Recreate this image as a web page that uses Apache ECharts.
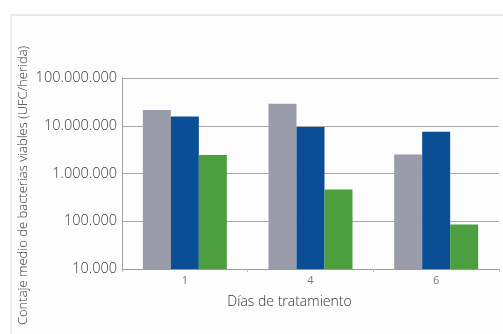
<!DOCTYPE html>
<html>
<head>
<meta charset="utf-8">
<script src="https://cdn.jsdelivr.net/npm/echarts@6/dist/echarts.min.js"></script>
<style>
  html, body { margin: 0; padding: 0; background: #ffffff; }
  #chart { width: 503px; height: 334px; }
</style>
</head>
<body>
<div id="chart"></div>
<script>
// Treatment days on the x axis
const days = ['1', '4', '6'];

// Mean viable bacteria counts (CFU / wound), one array per group
const serieGris = [21500000, 29000000, 2500000];
const serieAzul = [15600000, 9400000, 7500000];
const serieVerde = [2450000, 460000, 85000];

// Labels for the log-scale ticks
const yTickLabels = {
  10000: '10.000',
  100000: '100.000',
  1000000: '1.000.000',
  10000000: '10.000.000',
  100000000: '100.000.000'
};

const chart = echarts.init(document.getElementById('chart'), null, { renderer: 'canvas' });

const fontFam = '"Open Sans", "Noto Sans", sans-serif';

chart.setOption({
  animation: false,
  backgroundColor: '#ffffff',
  graphic: [
    {
      type: 'rect',
      z: -10,
      silent: true,
      shape: { x: 11, y: 15, width: 520, height: 340 },
      style: { fill: '#fdfdfd', stroke: '#ebebeb', lineWidth: 2 }
    }
  ],
  grid: { left: 122, right: 4, top: 78, bottom: 65 },
  xAxis: {
    type: 'category',
    data: days,
    name: 'Días de tratamiento',
    nameLocation: 'middle',
    nameGap: 26,
    nameTextStyle: { fontFamily: fontFam, fontSize: 14, fontWeight: 300, color: '#333', padding: [0, 42, 0, 0] },
    axisLine: { lineStyle: { color: '#9a9a9a', width: 1 } },
    axisTick: { show: true, alignWithLabel: false, length: 3, lineStyle: { color: '#bbbbbb' } },
    axisLabel: { fontFamily: fontFam, fontSize: 11, color: '#777', margin: 6 }
  },
  yAxis: {
    type: 'log',
    logBase: 10,
    min: 10000,
    max: 100000000,
    name: 'Contaje medio de bacterias viables (UFC/herida)',
    nameLocation: 'middle',
    nameGap: 92,
    nameMoveOverlap: false,
    nameRotate: 90,
    nameTextStyle: { fontFamily: fontFam, fontSize: 13, fontWeight: 300, color: '#333', padding: [0, 24, 0, 0] },
    axisLine: { show: true, lineStyle: { color: '#a0a0a0', width: 1 } },
    axisTick: { show: false },
    splitLine: { show: true, lineStyle: { color: '#a8a8a8', width: 1 } },
    axisLabel: {
      fontFamily: fontFam,
      fontSize: 14.5,
      fontWeight: 300,
      color: '#3a3a3a',
      margin: 5,
      formatter: function (v) { return yTickLabels[Math.round(v)] || ''; }
    }
  },
  series: [
    {
      name: 'gris',
      type: 'bar',
      data: serieGris,
      barWidth: 28,
      barGap: '0%',
      barCategoryGap: '33%',
      itemStyle: { color: '#9a9caa' }
    },
    {
      name: 'azul',
      type: 'bar',
      data: serieAzul,
      barWidth: 28,
      barGap: '0%',
      itemStyle: { color: '#0a4f96' }
    },
    {
      name: 'verde',
      type: 'bar',
      data: serieVerde,
      barWidth: 28,
      barGap: '0%',
      itemStyle: { color: '#4c9e3f' }
    }
  ]
});
</script>
</body>
</html>
